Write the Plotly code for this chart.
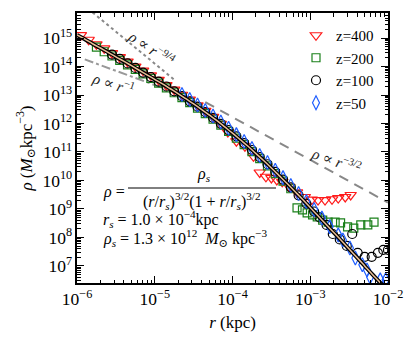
import plotly.graph_objects as go

# ---------------- data (log10 values) ----------------
# fitted profile (black line)
fit_logr = [-6.0, -5.9, -5.8, -5.7, -5.6, -5.5, -5.4, -5.3, -5.2, -5.1, -5.0, -4.9, -4.8,
            -4.7, -4.6, -4.5, -4.4, -4.3, -4.2, -4.1, -4.0, -3.9, -3.8, -3.7, -3.6, -3.5,
            -3.4, -3.3, -3.2, -3.1, -3.0, -2.9, -2.8, -2.7, -2.6, -2.5, -2.4, -2.3, -2.2,
            -2.1, -2.0]
fit_logrho = [15.11, 14.96, 14.80, 14.65, 14.50, 14.34, 14.19, 14.03, 13.87, 13.71, 13.55,
              13.39, 13.22, 13.05, 12.87, 12.69, 12.50, 12.30, 12.10, 11.88, 11.66, 11.43,
              11.20, 10.95, 10.70, 10.44, 10.17, 9.90, 9.62, 9.34, 9.05, 8.76, 8.47, 8.18,
              7.89, 7.59, 7.30, 7.00, 6.70, 6.41, 6.11]

# z = 400
z400_logr = [-5.95, -5.85, -5.75, -5.65, -5.55, -5.45, -5.35, -5.25, -5.15, -5.05, -4.95,
             -4.85, -4.75, -4.65, -4.55, -4.45, -4.35, -4.25, -4.15, -4.06, -3.95, -3.84,
             -3.73, -3.65, -3.57, -3.50, -3.43, -3.36, -3.27, -3.17, -3.07, -2.98, -2.90,
             -2.81, -2.72, -2.64, -2.55, -2.48]
z400_logrho = [15.10, 14.94, 14.78, 14.64, 14.47, 14.33, 14.17, 14.00, 13.86, 13.69, 13.53,
               13.35, 13.19, 13.01, 12.84, 12.64, 12.44, 12.23, 11.99, 11.70, 11.38, 11.20,
               10.85, 10.28, 10.13, 10.09, 10.02, 9.95, 9.78, 9.58, 9.42, 9.33, 9.31,
               9.31, 9.34, 9.38, 9.42, 9.49]

# z = 200
z200_logr = [-5.75, -5.65, -5.55, -5.45, -5.35, -5.25, -5.15, -5.05, -4.95, -4.85, -4.75,
             -4.65, -4.55, -4.45, -4.35, -4.25, -4.15, -4.05, -3.95, -3.85, -3.75, -3.65,
             -3.55, -3.45, -3.35, -3.25, -3.17, -3.10, -3.04, -2.97, -2.91, -2.84, -2.77,
             -2.68, -2.61, -2.52, -2.44, -2.35, -2.26, -2.18]
z200_logrho = [14.68, 14.52, 14.37, 14.22, 14.06, 13.90, 13.74, 13.58, 13.42, 13.25, 13.08,
               12.91, 12.73, 12.54, 12.35, 12.15, 11.94, 11.72, 11.49, 11.26, 11.01, 10.77,
               10.51, 10.24, 9.98, 9.71, 9.04, 8.97, 8.86, 8.79, 8.72, 8.61, 8.54,
               8.54, 8.51, 8.37, 8.33, 8.44, 8.44, 8.54]

# z = 100
z100_logr = [-5.55, -5.45, -5.35, -5.25, -5.15, -5.05, -4.95, -4.85, -4.75, -4.65, -4.55,
             -4.45, -4.35, -4.25, -4.15, -4.05, -3.95, -3.85, -3.75, -3.65, -3.55, -3.45,
             -3.35, -3.25, -3.15, -3.05, -2.95, -2.88, -2.79, -2.71, -2.62, -2.53, -2.46,
             -2.39, -2.30, -2.21, -2.13, -2.06, -2.00]
z100_logrho = [14.42, 14.27, 14.11, 13.95, 13.79, 13.63, 13.47, 13.30, 13.13, 12.96, 12.78,
               12.59, 12.40, 12.20, 11.99, 11.77, 11.55, 11.31, 11.07, 10.82, 10.57, 10.30,
               10.03, 9.76, 9.48, 9.19, 8.91, 8.70, 8.44, 8.12, 7.93, 7.70, 8.12,
               7.46, 7.32, 7.32, 7.46, 7.56, 7.56]

# z = 50
z50_logr = [-4.65, -4.55, -4.45, -4.35, -4.25, -4.15, -4.05, -3.95, -3.85, -3.75, -3.65,
            -3.55, -3.45, -3.35, -3.25, -3.15, -3.05, -2.95, -2.85, -2.75, -2.64, -2.58,
            -2.49, -2.42, -2.33, -2.27, -2.23, -2.10, -2.03]
z50_logrho = [13.02, 12.84, 12.65, 12.46, 12.26, 12.05, 11.83, 11.61, 11.37, 11.12, 10.88,
              10.63, 10.36, 10.10, 9.82, 9.54, 9.26, 8.98, 8.68, 8.38, 8.09, 7.91,
              7.63, 7.28, 7.04, 6.86, 6.61, 6.51, 6.51]

# power-law guide lines (log10 endpoints)
g94_logr, g94_logrho = [-5.8, -4.75], [15.9, 13.54]
g1_logr, g1_logrho = [-5.9, -4.75], [14.25, 13.10]
g32_logr, g32_logrho = [-4.35, -2.0], [12.75, 9.225]

labels = ["z=400", "z=200", "z=100", "z=50"]
colors = ["#ff1a1a", "#1a801a", "#000000", "#1f5eff"]
symbols = ["triangle-down-open", "square-open", "circle-open", "diamond-tall-open"]
sizes = [10, 8, 9, 10]

def p(v):
    return [10 ** a for a in v]

FONT = "Liberation Serif, DejaVu Serif, serif"
fig = go.Figure()

# guide lines
fig.add_trace(go.Scatter(x=p(g94_logr), y=p(g94_logrho), mode="lines", showlegend=False,
                         line=dict(color="#888888", width=2, dash="dot")))
fig.add_trace(go.Scatter(x=p(g1_logr), y=p(g1_logrho), mode="lines", showlegend=False,
                         line=dict(color="#999999", width=2, dash="dashdot")))
fig.add_trace(go.Scatter(x=p(g32_logr), y=p(g32_logrho), mode="lines", showlegend=False,
                         line=dict(color="#888888", width=2, dash="10px,7px")))

series = [(z400_logr, z400_logrho), (z200_logr, z200_logrho),
          (z100_logr, z100_logrho), (z50_logr, z50_logrho)]
for (lr, lrho), lab, c, s, sz in zip(series, labels, colors, symbols, sizes):
    fig.add_trace(go.Scatter(x=p(lr), y=p(lrho), mode="markers", name=lab,
                             marker=dict(symbol=s, size=sz, color=c,
                                         line=dict(color=c, width=1.2))))

# fitted profile
fig.add_trace(go.Scatter(x=p(fit_logr), y=p(fit_logrho), mode="lines", showlegend=False,
                         line=dict(color="black", width=4, shape="spline")))
fig.add_trace(go.Scatter(x=p(fit_logr), y=p(fit_logrho), mode="lines", showlegend=False,
                         line=dict(color="#e8bd96", width=1.5, shape="spline")))

axis_common = dict(
    type="log", showgrid=False, zeroline=False, showline=True, linecolor="black",
    linewidth=2, mirror="ticks", ticks="inside", ticklen=7, tickwidth=1.2,
    tickcolor="black", dtick=1, exponentformat="power", showexponent="all",
    automargin=False,
    tickfont=dict(family=FONT, size=14, color="black"),
    minor=dict(ticks="inside", ticklen=3.5, tickwidth=1, tickcolor="black", dtick="D1"),
)
fig.update_xaxes(range=[-6, -2],
                 title=dict(text="<i>r</i> (kpc)", font=dict(family=FONT, size=17), standoff=8),
                 **axis_common)
fig.update_yaxes(range=[6.40, 15.88],
                 title=dict(text="<i>ρ</i> (<i>M</i><sub>⊙</sub>kpc<sup>−3</sup>)",
                            font=dict(family=FONT, size=17), standoff=6),
                 **axis_common)

ann = []
def A(text, x, y, angle=0, size=13, xanchor="center", color="black"):
    ann.append(dict(text=text, x=x, y=y, xref="paper", yref="paper", showarrow=False,
                    textangle=angle, xanchor=xanchor, yanchor="middle",
                    font=dict(family=FONT, size=size, color=color)))

def px(xp):
    return (xp - 77) / 311.0

def py(yp):
    return (283 - yp) / 270.0

A("<i>ρ</i> ∝ <i>r</i><sup>−9/4</sup>", px(152), py(48), angle=34, size=15, color="#222")
A("<i>ρ</i> ∝ <i>r</i><sup>−1</sup>", px(113), py(83), angle=18, size=15, color="#222")
A("<i>ρ</i> ∝ <i>r</i><sup>−3/2</sup>", px(336), py(160), angle=20, size=15, color="#222")

A("<i>ρ</i> =", px(101), py(192), xanchor="left", size=16)
A("<i>ρ<sub>s</sub></i>", px(204), py(174), size=16)
A("(<i>r</i>/<i>r<sub>s</sub></i>)<sup>3/2</sup>(1 + <i>r</i>/<i>r<sub>s</sub></i>)<sup>3/2</sup>",
  px(202), py(201), size=16)
A("<i>r<sub>s</sub></i> = 1.0 × 10<sup>−4</sup>kpc", px(101), py(219), xanchor="left", size=16)
A("<i>ρ<sub>s</sub></i> = 1.3 × 10<sup>12</sup>  <i>M</i><sub>⊙</sub> kpc<sup>−3</sup>",
  px(101), py(238), xanchor="left", size=16)

fig.update_layout(
    width=415, height=342,
    margin=dict(l=77, r=27, t=13, b=59, autoexpand=False),
    paper_bgcolor="white", plot_bgcolor="white",
    font=dict(family=FONT, color="black"),
    annotations=ann,
    shapes=[dict(type="line", xref="paper", yref="paper", x0=px(128), x1=px(276),
                 y0=py(188), y1=py(188), line=dict(color="black", width=1))],
    legend=dict(x=px(296), y=py(19), xanchor="left", yanchor="top",
                bgcolor="rgba(0,0,0,0)", borderwidth=0,
                font=dict(family=FONT, size=15), itemwidth=30, tracegroupgap=0),
    showlegend=True,
)

fig.write_html("out.html", config={"displayModeBar": False},
               post_script="document.body.style.margin='0';document.body.style.padding='0';")
